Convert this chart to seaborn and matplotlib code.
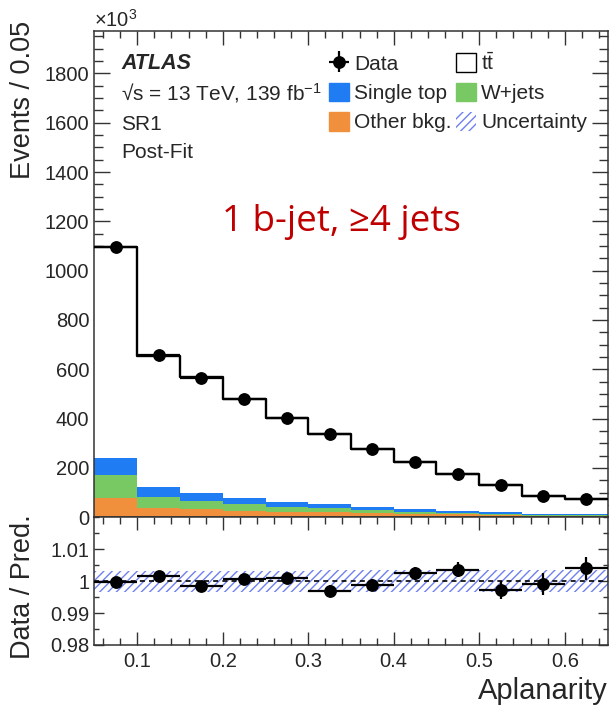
import numpy as np
import pandas as pd
import matplotlib
matplotlib.use("Agg")
import matplotlib.pyplot as plt
import seaborn as sns
from matplotlib.ticker import MultipleLocator, FixedLocator, FormatStrFormatter
from matplotlib.patches import Patch

# ---------------- data (values in units of 10^3 events) ----------------
bin_edges = [0.05, 0.10, 0.15, 0.20, 0.25, 0.30, 0.35, 0.40, 0.45, 0.50, 0.55, 0.60, 0.65]
data = [1096, 657, 566, 480, 404, 336, 278, 225, 176, 130, 86, 74]
data_err = [1.05, 0.81, 0.75, 0.69, 0.64, 0.58, 0.53, 0.47, 0.42, 0.36, 0.29, 0.27]
ttbar = [854, 532, 467, 400, 340, 284, 237, 191, 149, 110, 71, 62]
single_top = [69, 42, 34, 28, 22, 17, 13, 11, 8, 6, 4, 4]
wjets = [95, 44, 33, 26, 21, 16, 11, 8, 6, 4, 4, 3]
other_bkg = [78, 38, 33, 26, 21, 20, 17, 14, 12, 10, 7, 5]
ratio = [0.9998, 1.0016, 0.9986, 1.0006, 1.0011, 0.9970, 0.9988, 1.0024, 1.0036, 0.9972, 0.9990, 1.0040]
ratio_err = [0.0009, 0.0012, 0.0013, 0.0014, 0.0016, 0.0017, 0.0019, 0.0021, 0.0024, 0.0028, 0.0034, 0.0037]
unc_band = [0.0033, 0.0033, 0.0033, 0.0033, 0.0033, 0.0034, 0.0034, 0.0034, 0.0034, 0.0034, 0.0034, 0.0034]
x_label = "Aplanarity"

# ---------------- style ----------------
sns.set_style("ticks")
plt.rcParams.update({
    "font.size": 15,
    "mathtext.fontset": "custom",
    "mathtext.rm": "Liberation Sans",
    "mathtext.it": "Liberation Sans:italic",
    "mathtext.bf": "Liberation Sans:bold",
    "hatch.linewidth": 1.0,
    "axes.linewidth": 1.1,
    "axes.edgecolor": "#333333",
})
plt.rcParams["font.family"] = ["Liberation Sans", "DejaVu Sans"]

C_ST = "#1f7cf2"
C_W = "#78c864"
C_OTH = "#f0903c"
C_UNC = "#6f80f0"

edges = np.array(bin_edges)
centers = 0.5 * (edges[:-1] + edges[1:])
half_w = 0.5 * (edges[1:] - edges[:-1])

o = np.array(other_bkg, float)
w = o + np.array(wjets, float)
st = w + np.array(single_top, float)
tot = st + np.array(ttbar, float)
df = pd.DataFrame({"x": centers, "total": tot, "cum_st": st, "cum_w": w, "cum_o": o})

W, H = 613, 711
fig = plt.figure(figsize=(W / 100, H / 100), dpi=100)
L, R = 94.5, 607.5
ax = fig.add_axes([L / W, 1 - 517.3 / H, (R - L) / W, (517.3 - 30.7) / H])
ax2 = fig.add_axes([L / W, 1 - 645 / H, (R - L) / W, (645 - 517.3) / H], sharex=ax)

# stacked layers (painter's order)
for col, c in [("total", "white"), ("cum_st", C_ST), ("cum_w", C_W), ("cum_o", C_OTH)]:
    sns.histplot(data=df, x="x", weights=col, bins=list(bin_edges), element="step", fill=True,
                 color=c, alpha=1, linewidth=0, ax=ax)
sns.histplot(data=df, x="x", weights="total", bins=list(bin_edges), element="step", fill=False,
             color="black", linewidth=1.7, ax=ax)

data_h = ax.errorbar(centers, data, yerr=data_err, xerr=half_w, fmt="o", color="black",
                     ms=8.2, elinewidth=1.6, capsize=0, zorder=10)

ax.set_xlim(0.05, 0.65)
ax.set_ylim(0, 1973)
ax.set_xlabel("")
ax.set_ylabel("")
ax.yaxis.set_major_locator(MultipleLocator(200))
ax.yaxis.set_minor_locator(MultipleLocator(50))
ax.xaxis.set_major_locator(MultipleLocator(0.1))
ax.xaxis.set_minor_locator(MultipleLocator(0.02))
ax.tick_params(axis="y", which="major", direction="in", length=11.5, width=1.0, left=True, right=True,
               labelsize=14.5, pad=3.6, color="#333333")
ax.tick_params(axis="y", which="minor", direction="in", length=6.2, width=1.0, left=True, right=True,
               color="#333333")
ax.tick_params(axis="x", which="major", direction="in", length=10, width=1.0, top=True, bottom=True,
               labelbottom=False, color="#333333")
ax.tick_params(axis="x", which="minor", direction="in", length=5, width=1.0, top=True, bottom=True,
               color="#333333")

# ---------------- ratio panel ----------------
ax2.stairs(np.array(1 + np.array(unc_band)), edges, baseline=1 - np.array(unc_band), fill=True,
           facecolor="none", edgecolor=C_UNC, hatch="////", linewidth=0)
ax2.axhline(1.0, color="black", ls=(0, (3, 2.5)), lw=1.2)
ax2.errorbar(centers, ratio, yerr=ratio_err, xerr=half_w, fmt="o", color="black",
             ms=8.2, elinewidth=1.6, capsize=0, zorder=10)
ax2.set_ylim(0.98, 1.02)
ax2.yaxis.set_major_locator(FixedLocator([0.98, 0.99, 1.0, 1.01]))
ax2.yaxis.set_major_formatter(FormatStrFormatter("%g"))
ax2.yaxis.set_minor_locator(MultipleLocator(0.005))
ax2.tick_params(axis="y", which="major", direction="in", length=7.2, width=1.0, left=True, right=True,
                labelsize=14.5, pad=3.6, color="#333333")
ax2.tick_params(axis="y", which="minor", direction="in", length=3.6, width=1.0, left=True, right=True,
                color="#333333")
ax2.tick_params(axis="x", which="major", direction="in", length=9.4, width=1.0, top=True, bottom=True,
                labelsize=14.5, pad=5, color="#333333")
ax2.tick_params(axis="x", which="minor", direction="in", length=5, width=1.0, top=True, bottom=True,
                color="#333333")
ax2.set_xlim(0.05, 0.65)

# axis titles
fig.text(R / W, 1 - 699 / H, x_label, ha="right", va="baseline", fontsize=21)
fig.text(23 / W, 1 - 21 / H, "Events / 0.05", rotation=90, ha="center", va="top", fontsize=19.5)
fig.text(23 / W, 1 - 587 / H, "Data / Pred.", rotation=90, ha="center", va="center", fontsize=19.5)
fig.text(93.5 / W, 1 - 27 / H, r"$\times$10$^{3}$", ha="left", va="baseline", fontsize=14.5)

# labels
tx = 121 / W
fig.text(tx, 1 - 69.3 / H, "ATLAS", fontsize=15.5, fontweight="bold", fontstyle="italic", va="baseline")
fig.text(tx, 1 - 100.7 / H, "√s = 13 TeV, 139 fb$^{-1}$", fontsize=15, va="baseline")
fig.text(tx, 1 - 129.5 / H, "SR1", fontsize=15, va="baseline")
fig.text(tx, 1 - 157.9 / H, "Post-Fit", fontsize=15, va="baseline")
fig.text(222 / W, 1 - 231 / H, "1 b-jet, ≥4 jets", fontsize=26.5, color="#c00000",
         family=["Open Sans", "DejaVu Sans"], va="baseline")

# legend
h_tt = Patch(facecolor="white", edgecolor="black", linewidth=1.0)
h_st = Patch(facecolor=C_ST, edgecolor=C_ST)
h_w = Patch(facecolor=C_W, edgecolor=C_W)
h_o = Patch(facecolor=C_OTH, edgecolor=C_OTH)
h_u = Patch(facecolor="none", edgecolor=C_UNC, hatch="////", linewidth=0)
ax.legend(handles=[data_h, h_st, h_o, h_tt, h_w, h_u],
          labels=["Data", "Single top", "Other bkg.", r"t$\bar{\mathrm{t}}$", "W+jets", "Uncertainty"],
          ncol=2, loc="upper left", bbox_to_anchor=(328.5 / W, 1 - 52 / H), bbox_transform=fig.transFigure,
          frameon=False, fontsize=15, handlelength=1.0, handleheight=1.0, handletextpad=0.22,
          columnspacing=0.2, labelspacing=0.42, borderpad=0, borderaxespad=0)

fig.savefig("out.png", dpi=100)
